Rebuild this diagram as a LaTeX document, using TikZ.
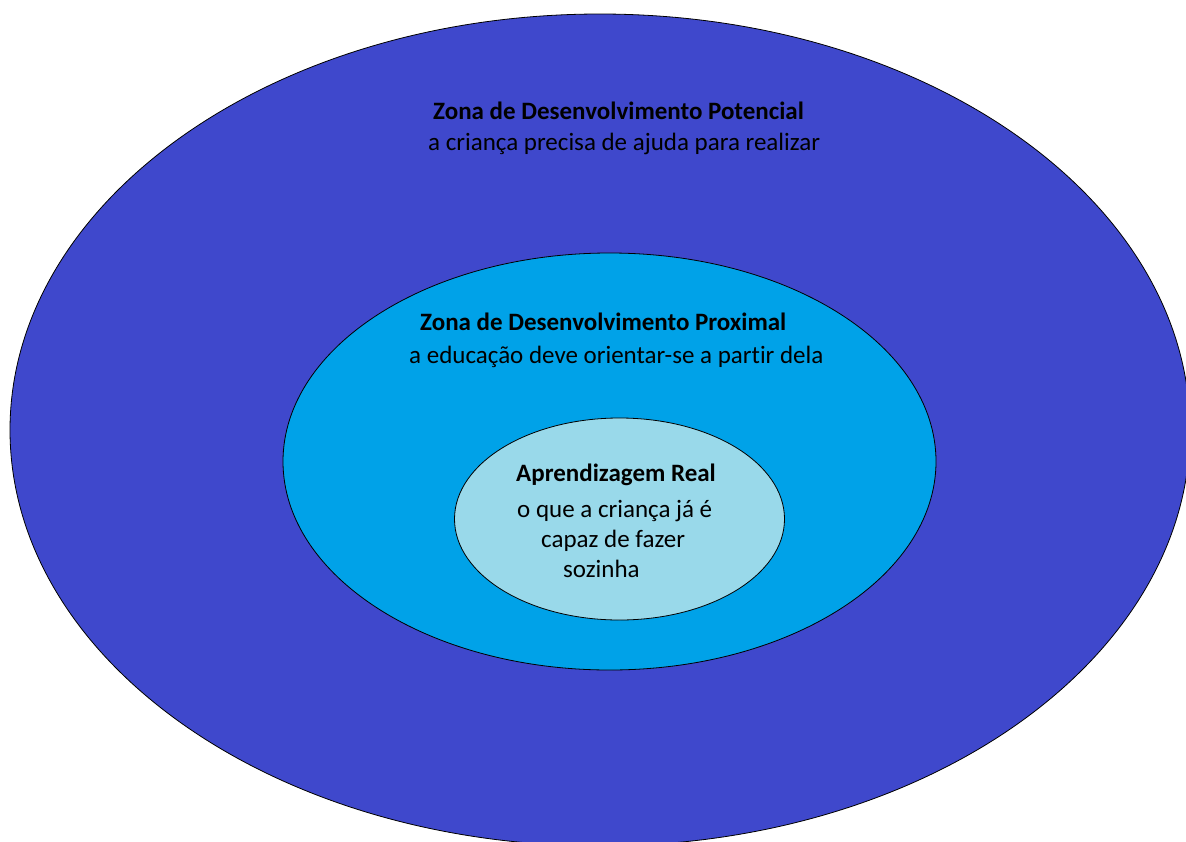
\documentclass[tikz,border=0pt]{standalone}
\usepackage{fontspec}
\setmainfont[Ligatures=NoCommon]{Carlito}
\definecolor{zonapot}{RGB}{63,72,204}
\definecolor{zonaprox}{RGB}{0,162,232}
\definecolor{zonareal}{RGB}{153,217,234}
\tikzset{
  zona/.style={draw=black,line width=0.8pt},
  rotulo/.style={anchor=base west,inner sep=0pt,font=\fontsize{25}{30}\selectfont},
  titulo/.style={rotulo,font=\fontsize{25}{30}\selectfont\bfseries}
}
\begin{document}
\begin{tikzpicture}[x=1pt,y=-1pt]
  % page frame
  \useasboundingbox (0,0) rectangle (1186,841);
  \clip (0,0) rectangle (1186,841);
  % centres of the three zones
  \coordinate (P) at (600,430);
  \coordinate (Q) at (609.5,461.5);
  \coordinate (R) at (619.5,519);
  % ellipses
  \draw[zona,fill=zonapot]  (P) ellipse (590pt and 416pt);
  \draw[zona,fill=zonaprox] (Q) ellipse (326.5pt and 208.5pt);
  \draw[zona,fill=zonareal] (R) ellipse (165pt and 101pt);
  % labels, outer zone
  \node[titulo] (pot) at (433,119) {Zona de Desenvolvimento Potencial};
  \node[rotulo] (potd) at (428,150) {a criança precisa de ajuda para realizar};
  % labels, middle zone
  \node[titulo] (prox) at (420,330) {Zona de Desenvolvimento Proximal};
  \node[rotulo] (proxd) at (409,363) {a educação deve orientar-se a partir dela};
  % labels, inner zone
  \node[titulo] (real) at (516,481) {Aprendizagem Real};
  \node[rotulo] (reala) at (517,517) {o que a criança já é};
  \node[rotulo] (realb) at (541,547) {capaz de fazer};
  \node[rotulo] (realc) at (563,577) {sozinha};
\end{tikzpicture}
\end{document}
